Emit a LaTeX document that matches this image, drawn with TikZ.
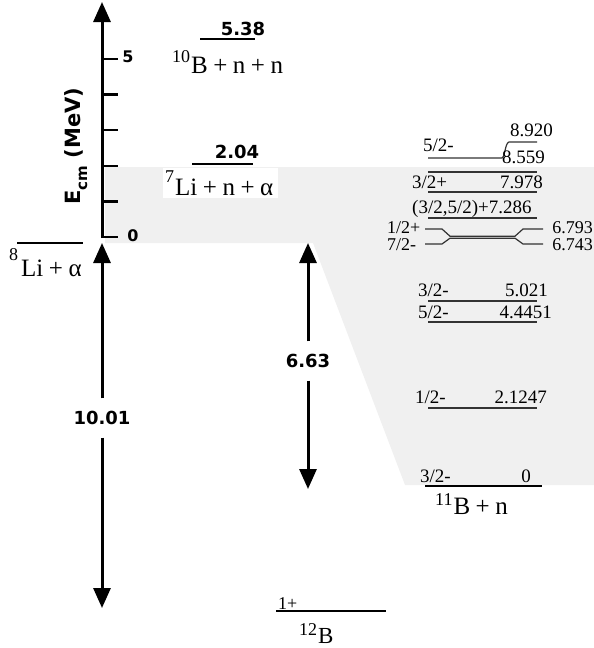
\documentclass[tikz,border=0pt]{standalone}
\usepackage{fontspec}
\setmainfont{Liberation Serif}
\newfontfamily\dvsans{DejaVu Sans}
\usetikzlibrary{arrows.meta}
\newcommand{\fsz}[1]{\fontsize{#1pt}{#1pt}\selectfont}
\newcommand{\pl}{\hspace{0.22em}+\hspace{0.22em}}
\newcommand{\iso}[2]{\raisebox{#2pt}{\fsz{18}#1}\hspace{1pt}}
\begin{document}
\begin{tikzpicture}[x=1pt,y=-1pt,
  big/.style={font=\fsz{25}, inner sep=0pt, anchor=base west},
  lev/.style={font=\fsz{19}, inner sep=0pt, text=black},
  levs/.style={font=\fsz{18}, inner sep=0pt, text=black},
  num/.style={font=\dvsans\bfseries\fsz{18}, inner sep=0pt},
  arrlab/.style={num, minimum height=39pt, minimum width=10pt},
  tick/.style={line width=2.4pt},
  axis/.style={line width=3pt, -{Triangle[width=17pt,length=20pt]}},
  lvl/.style={line width=1.2pt, draw=black!80},
  glvl/.style={line width=1.6pt},
  ]
\useasboundingbox (0,0) rectangle (594,648);
% shaded band and trapezoid
\fill[gray!12] (105,167) -- (594,167) -- (594,485) -- (405,485) -- (313,243) -- (105,243) -- cycle;
\fill[white] (163,168) rectangle (278,198);

% energy axis
\coordinate (ax0) at (102,238);
\coordinate (axtop) at (102,2);
\draw[axis] (ax0) -- (axtop);
\foreach \k in {0,...,5} {
  \draw[tick] (101,237-35.6*\k) -- (118,237-35.6*\k);
}
\node[font=\dvsans\bfseries\fsz{16}, inner sep=0pt] (t5) at (128,57) {5};
\node[font=\dvsans\bfseries\fsz{16}, inner sep=0pt] (t0) at (133,236) {0};
\node[font=\dvsans\bfseries\fsz{21}, rotate=90, inner sep=0pt] (ecm) at (76,146)
  {E\raisebox{-0.3em}{\fsz{15}cm} (MeV)};

% thresholds
\draw[glvl] (200,39) -- (255,39);
\node[num] (v538) at (243,29) {5.38};
\node[big] (b10) at (172,73) {\iso{10}{11}B\pl n\pl n};

\draw[glvl] (192,164) -- (253,164);
\node[num] (v204) at (237,152) {2.04};
\node[big] (li7) at (165,195) {\iso{7}{13}Li\pl n\pl α};

\draw[glvl] (17,243) -- (83,243);
\node[big] (li8) at (9,276) {\iso{8}{16}\hspace{2pt}Li\pl α};

% 10.01 arrow
\node[arrlab] (l1001) at (102,418) {10.01};
\coordinate (a1t) at (102,243);
\coordinate (a1b) at (102,608);
\draw[axis] (l1001.north) -- (a1t);
\draw[axis] (l1001.south) -- (a1b);

% 6.63 arrow
\node[arrlab] (l663) at (308,361) {6.63};
\coordinate (a2t) at (308,243);
\coordinate (a2b) at (308,489);
\draw[axis] (l663.north) -- (a2t);
\draw[axis] (l663.south) -- (a2b);

% 12B
\draw[line width=2pt] (276,611) -- (386,611);
\node[font=\fsz{18}, inner sep=0pt, anchor=base west] (j1p) at (278,609) {1+};
\node[font=\fsz{23}, inner sep=0pt, anchor=base west] (b12) at (299,643) {\iso{12}{8}B};

% 11B levels
\draw[lvl] (428,158) -- (502,158) .. controls (505,157) and (505,143) .. (509,142) -- (537,142);
\node[lev, anchor=base west] (s892) at (423,151) {5/2-};
\node[lev, anchor=base east] (e892) at (553,136) {8.920};
\node[lev, anchor=base east] (e856) at (545,163) {8.559};
\draw[lvl] (428,172) -- (537,172);

\draw[lvl] (428,192) -- (537,192);
\node[lev, anchor=base west] (s798) at (412,188) {3/2+};
\node[lev, anchor=base east] (e798) at (543,188) {7.978};

\draw[lvl] (428,218) -- (537,218);
\node[lev, anchor=base west] (s729) at (412,213) {(3/2,5/2)+7.286};

\draw[lvl] (425,229) -- (442,229) -- (450,236.2) -- (515,236.2) -- (523,229) -- (543,229);
\draw[lvl] (425,244) -- (442,244) -- (450,238.2) -- (515,238.2) -- (523,244) -- (543,244);
\node[levs, anchor=base west] (s679) at (387,233) {1/2+};
\node[levs, anchor=base west] (s674) at (387,250) {7/2-};
\node[levs, anchor=base east] (e679) at (593,233) {6.793};
\node[levs, anchor=base east] (e674) at (593,250) {6.743};

\draw[lvl] (428,301) -- (537,301);
\node[lev, anchor=base west] (s502) at (418,296) {3/2-};
\node[lev, anchor=base east] (e502) at (548,296) {5.021};

\draw[lvl] (428,322) -- (537,322);
\node[lev, anchor=base west] (s444) at (418,318) {5/2-};
\node[lev, anchor=base east] (e444) at (552,318) {4.4451};

\draw[lvl] (428,408) -- (537,408);
\node[lev, anchor=base west] (s212) at (415,403) {1/2-};
\node[lev, anchor=base east] (e212) at (547,403) {2.1247};

\draw[line width=2.4pt] (425,486) -- (542,486);
\node[lev, anchor=base west] (s0) at (420,482) {3/2-};
\node[lev, anchor=base east] (e0) at (531,482) {0};
\node[big] (b11) at (435,514) {\iso{11}{9}B\pl n};
\end{tikzpicture}
\end{document}
